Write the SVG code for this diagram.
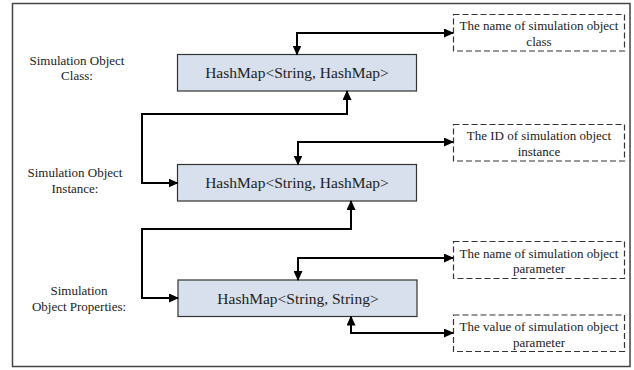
<svg xmlns="http://www.w3.org/2000/svg" width="634" height="370" viewBox="0 0 634 370">
<defs>
<marker id="arr" viewBox="0 0 10 9" refX="9" refY="4.5" markerWidth="10" markerHeight="9" markerUnits="userSpaceOnUse" orient="auto-start-reverse">
<path d="M0,0 L10,4.5 L0,9 Z" fill="#000"/>
</marker>
</defs>
<style>
.frame{fill:#fff;stroke:#444;stroke-width:1.5}
.box{fill:#d7e0ec;stroke:#333;stroke-width:1.2}
.dbox{fill:#fff;stroke:#333;stroke-width:1.2;stroke-dasharray:6 3}
.conn{fill:none;stroke:#000;stroke-width:2}
.bt{font-family:'Liberation Serif',serif;font-size:15.5px;fill:#222;text-anchor:middle}
.st{font-family:'Liberation Serif',serif;font-size:13px;fill:#222;text-anchor:middle}
</style>
<rect class="frame" x="12.5" y="3.5" width="617.5" height="363"/>
<g id="label-class">
<text class="st" style="font-family:'Liberation Serif',serif" x="77" y="64.5">Simulation Object</text>
<text class="st" style="font-family:'Liberation Serif',serif" x="77" y="80">Class:</text>
</g>
<g id="label-instance">
<text class="st" style="font-family:'Liberation Serif',serif" x="75" y="177">Simulation Object</text>
<text class="st" style="font-family:'Liberation Serif',serif" x="75" y="193">Instance:</text>
</g>
<g id="label-properties">
<text class="st" style="font-family:'Liberation Serif',serif" x="79" y="294.5">Simulation</text>
<text class="st" style="font-family:'Liberation Serif',serif" x="79" y="310.5">Object Properties:</text>
</g>
<g id="box-class">
<rect class="box" x="177.5" y="54.5" width="239" height="36.5"/>
<text class="bt" style="font-family:'Liberation Serif',serif" x="297" y="77.5">HashMap&lt;String, HashMap&gt;</text>
</g>
<g id="box-instance">
<rect class="box" x="177.5" y="164.5" width="239" height="36.5"/>
<text class="bt" style="font-family:'Liberation Serif',serif" x="297" y="187.5">HashMap&lt;String, HashMap&gt;</text>
</g>
<g id="box-properties">
<rect class="box" x="178" y="280" width="239" height="36.5"/>
<text class="bt" style="font-family:'Liberation Serif',serif" x="298" y="303.5">HashMap&lt;String, String&gt;</text>
</g>
<g id="note-class-name">
<rect class="dbox" x="453.5" y="14.5" width="171" height="36.5"/>
<text class="st" style="font-family:'Liberation Serif',serif" x="539" y="30">The name of simulation object</text>
<text class="st" style="font-family:'Liberation Serif',serif" x="539" y="46">class</text>
</g>
<g id="note-instance-id">
<rect class="dbox" x="453.5" y="124.5" width="171" height="36.5"/>
<text class="st" style="font-family:'Liberation Serif',serif" x="539" y="140">The ID of simulation object</text>
<text class="st" style="font-family:'Liberation Serif',serif" x="539" y="156">instance</text>
</g>
<g id="note-param-name">
<rect class="dbox" x="453.5" y="241.5" width="171" height="37"/>
<text class="st" style="font-family:'Liberation Serif',serif" x="539" y="258">The name of simulation object</text>
<text class="st" style="font-family:'Liberation Serif',serif" x="539" y="273">parameter</text>
</g>
<g id="note-param-value">
<rect class="dbox" x="453.5" y="315" width="171" height="36.5"/>
<text class="st" style="font-family:'Liberation Serif',serif" x="539" y="331">The value of simulation object</text>
<text class="st" style="font-family:'Liberation Serif',serif" x="539" y="347">parameter</text>
</g>
<g id="connectors">
<path class="conn" d="M297,54.5 V33 H453" marker-start="url(#arr)" marker-end="url(#arr)"/>
<path class="conn" d="M298,164.5 V142 H453" marker-start="url(#arr)" marker-end="url(#arr)"/>
<path class="conn" d="M347,91 V114 H142 V183 H177.5" marker-start="url(#arr)" marker-end="url(#arr)"/>
<path class="conn" d="M351,201 V229 H142 V298 H178" marker-start="url(#arr)" marker-end="url(#arr)"/>
<path class="conn" d="M298,280 V258 H453" marker-start="url(#arr)" marker-end="url(#arr)"/>
<path class="conn" d="M351,316.5 V333 H453" marker-start="url(#arr)" marker-end="url(#arr)"/>
</g>
</svg>
